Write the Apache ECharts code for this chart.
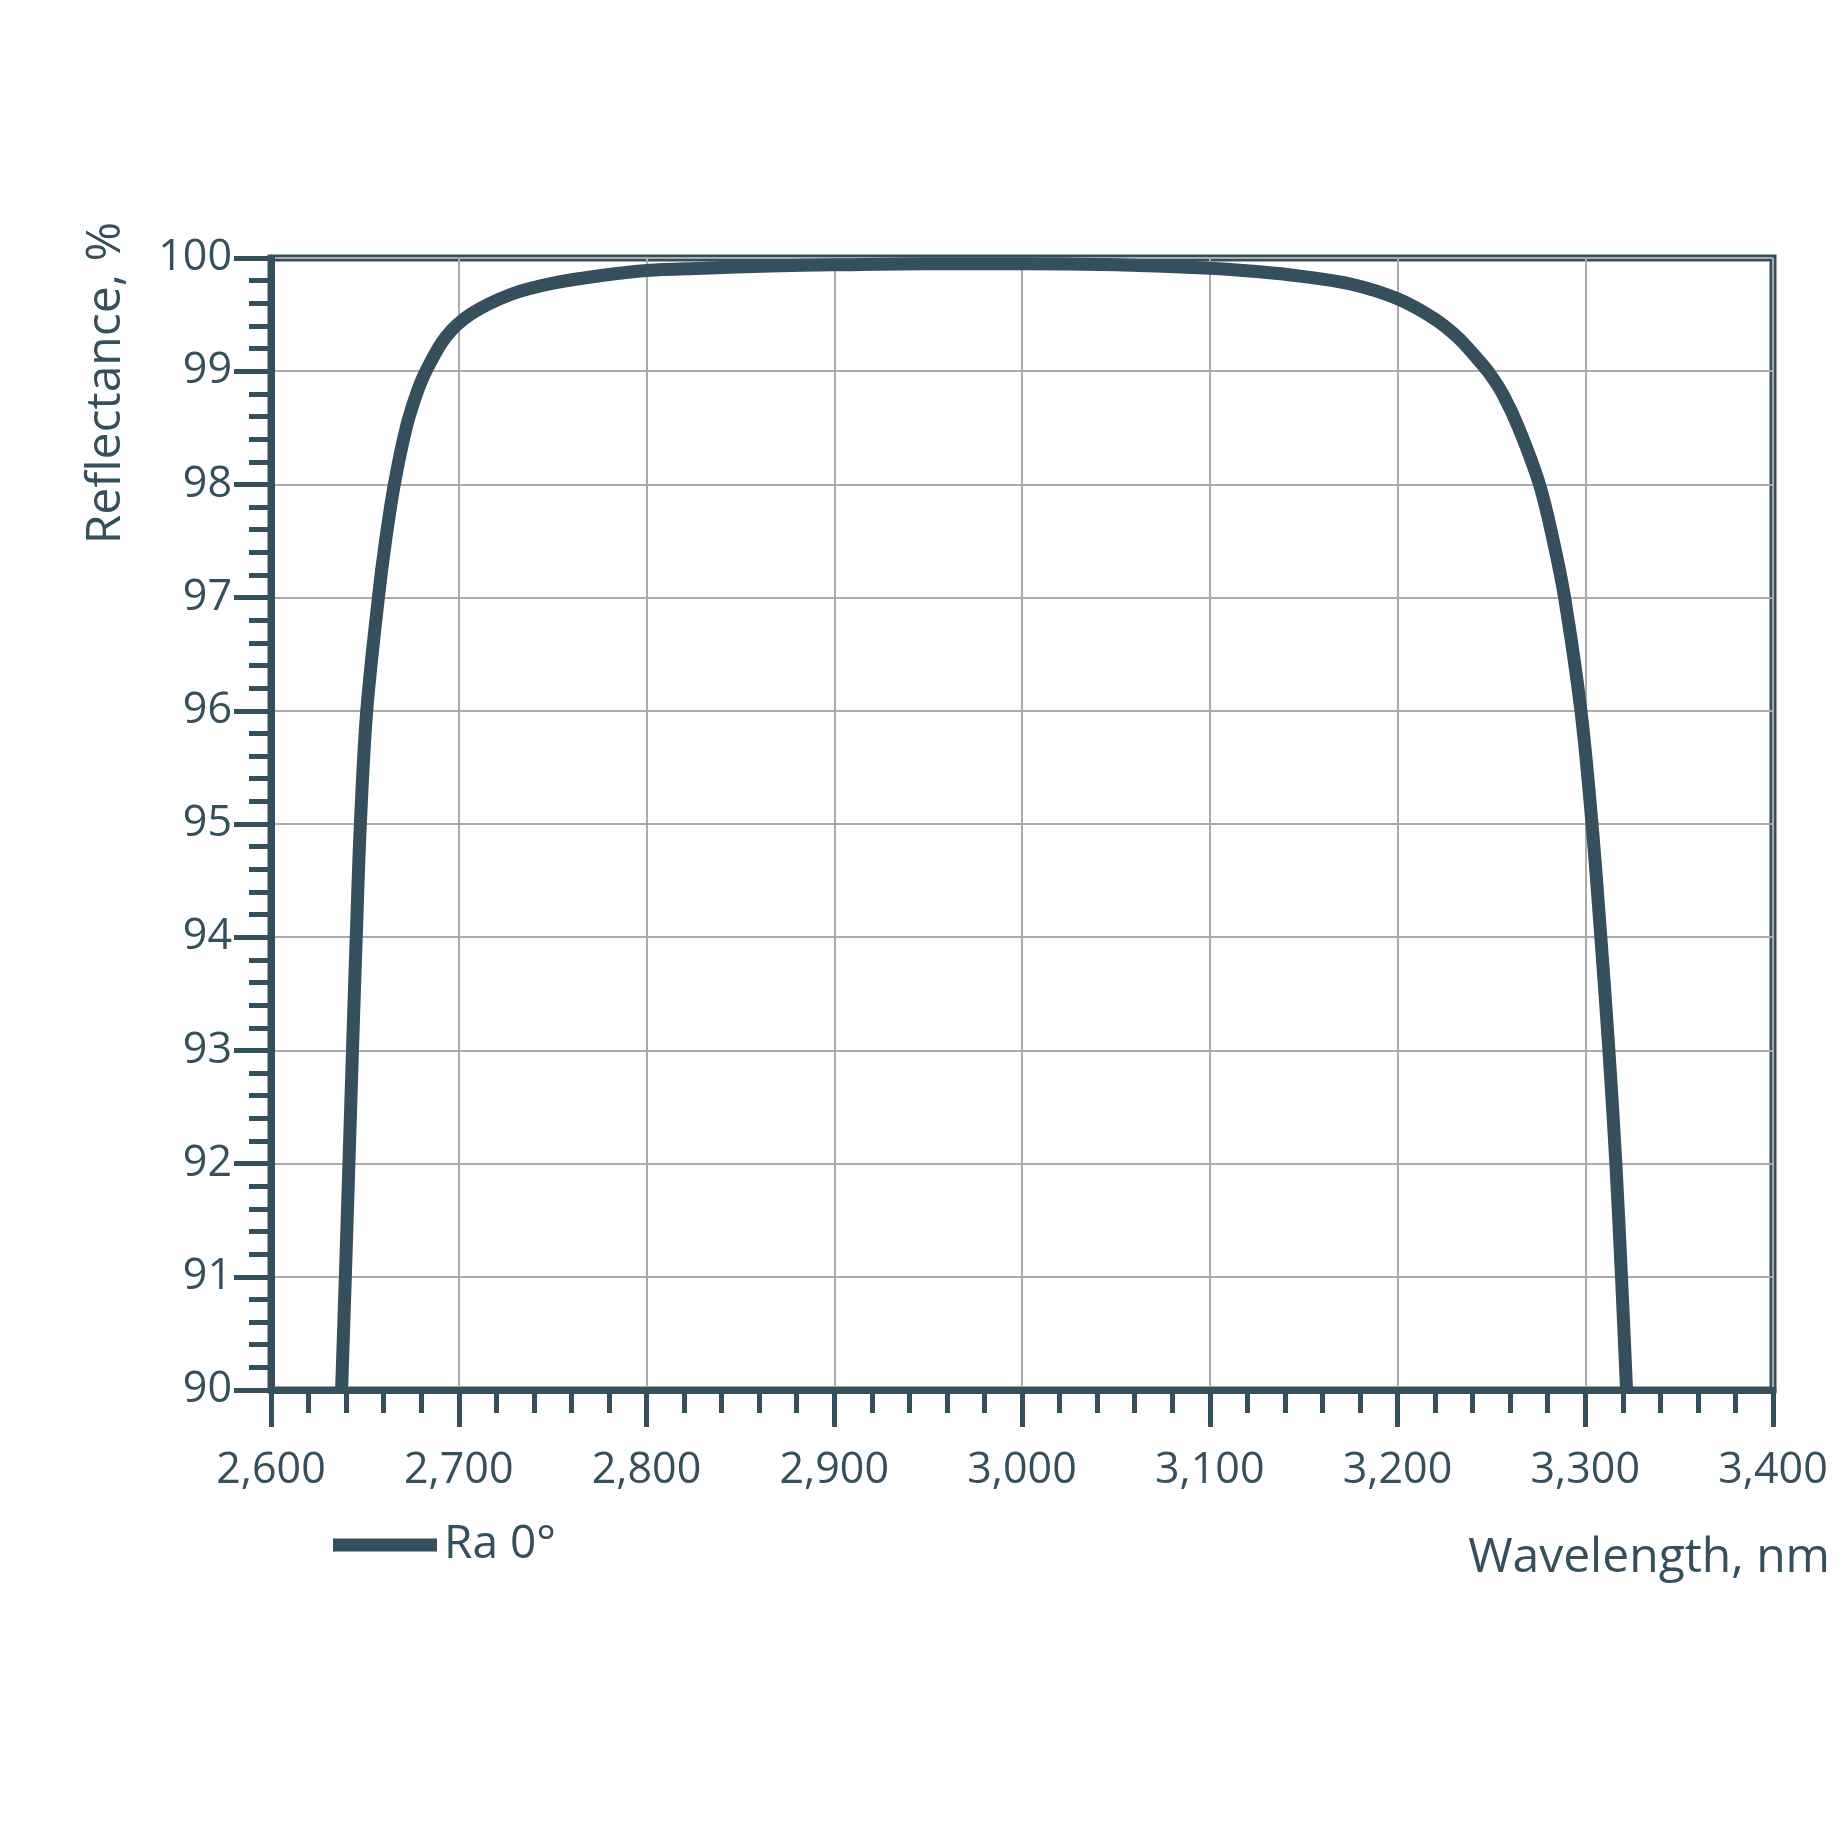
<!DOCTYPE html>
<html>
<head>
<meta charset="utf-8">
<script src="https://cdn.jsdelivr.net/npm/echarts@6/dist/echarts.min.js"></script>
<style>
html,body{margin:0;padding:0;background:#ffffff;}
#chart{width:1848px;height:1848px;}
</style>
</head>
<body>
<div id="chart"></div>
<script>
// Wavelength (nm) and reflectance (%)
const wavelength = [2637.6, 2639.6, 2641.5, 2643.4, 2645.4, 2647.6, 2651.0, 2657.2, 2661.0, 2665.7,
  2672.0, 2677.5, 2682.5, 2693.0, 2706.0, 2728.0, 2751.0, 2778.0, 2800.0, 2830.0,
  2866.0, 2900.0, 2950.0, 3000.0, 3050.0, 3100.0, 3125.0, 3148.0, 3175.0, 3200.0,
  3219.0, 3232.0, 3242.0, 3249.0, 3256.0, 3264.5, 3275.6, 3283.0, 3289.0, 3297.7,
  3303.6, 3308.3, 3312.6, 3316.3, 3319.3, 3322.0];
const reflectance = [90.0, 91.0, 92.0, 93.0, 94.0, 95.0, 96.0, 97.0, 97.5, 98.0,
  98.5, 98.8, 99.0, 99.3, 99.5, 99.68, 99.78, 99.85, 99.89, 99.91,
  99.93, 99.94, 99.95, 99.95, 99.94, 99.91, 99.88, 99.84, 99.77, 99.64,
  99.47, 99.3, 99.12, 98.98, 98.8, 98.5, 98.0, 97.5, 97.0, 96.0,
  95.0, 94.0, 93.0, 92.0, 91.0, 90.0];
const seriesName = 'Ra 0°';
const xTicks = [2600, 2700, 2800, 2900, 3000, 3100, 3200, 3300, 3400];
const yTicks = [90, 91, 92, 93, 94, 95, 96, 97, 98, 99, 100];
const xName = 'Wavelength, nm';
const yName = 'Reflectance, %';

const ink = '#35505c';
const font = 'Open Sans';
const points = wavelength.map((w, i) => [w, reflectance[i]]);

const chart = echarts.init(document.getElementById('chart'));
chart.setOption({
  backgroundColor: '#ffffff',
  animation: false,
  textStyle: { fontFamily: font, color: ink },
  grid: {
    left: 271, right: 75, top: 258, bottom: 458,
    show: true, borderColor: ink, borderWidth: 7, backgroundColor: 'transparent'
  },
  graphic: [{
    type: 'text',
    x: 106, y: 383,
    rotation: Math.PI / 2,
    style: {
      text: yName,
      fontFamily: font, fontSize: 48, fill: ink,
      align: 'center', verticalAlign: 'middle'
    }
  }],
  legend: {
    data: [seriesName],
    left: 328, top: 1517,
    icon: 'rect', itemWidth: 104, itemHeight: 13,
    textStyle: { fontFamily: font, fontSize: 46, color: ink, padding: [0, 0, 0, 2] }
  },
  xAxis: {
    type: 'value',
    min: xTicks[0], max: xTicks[xTicks.length - 1], interval: 100,
    name: xName,
    nameLocation: 'end', nameGap: 57,
    nameTextStyle: { fontFamily: font, fontSize: 48, color: ink, align: 'right', verticalAlign: 'top', padding: [144, 0, 0, 0] },
    axisLine: { show: true, lineStyle: { color: ink, width: 7 } },
    axisTick: { show: true, inside: false, length: 37, lineStyle: { color: ink, width: 5 } },
    minorTick: { show: true, splitNumber: 5, length: 23, lineStyle: { color: ink, width: 5 } },
    axisLabel: { fontFamily: font, fontSize: 43, color: ink, margin: 59,
      formatter: v => v.toLocaleString('en-US') },
    splitLine: { show: true, lineStyle: { color: '#ababab', width: 2 } },
    minorSplitLine: { show: false }
  },
  yAxis: {
    type: 'value',
    min: yTicks[0], max: yTicks[yTicks.length - 1], interval: 1,
    axisLine: { show: true, lineStyle: { color: ink, width: 7 } },
    axisTick: { show: true, inside: false, length: 37, lineStyle: { color: ink, width: 5 } },
    minorTick: { show: true, splitNumber: 5, length: 22, lineStyle: { color: ink, width: 5 } },
    axisLabel: { fontFamily: font, fontSize: 43, color: ink, margin: 39 },
    splitLine: { show: true, lineStyle: { color: '#ababab', width: 2 } },
    minorSplitLine: { show: false }
  },
  series: [{
    name: seriesName,
    type: 'line',
    data: points,
    showSymbol: false,
    smooth: 0.35,
    lineStyle: { color: ink, width: 13 },
    itemStyle: { color: ink },
    z: 3
  }]
});
</script>
</body>
</html>
